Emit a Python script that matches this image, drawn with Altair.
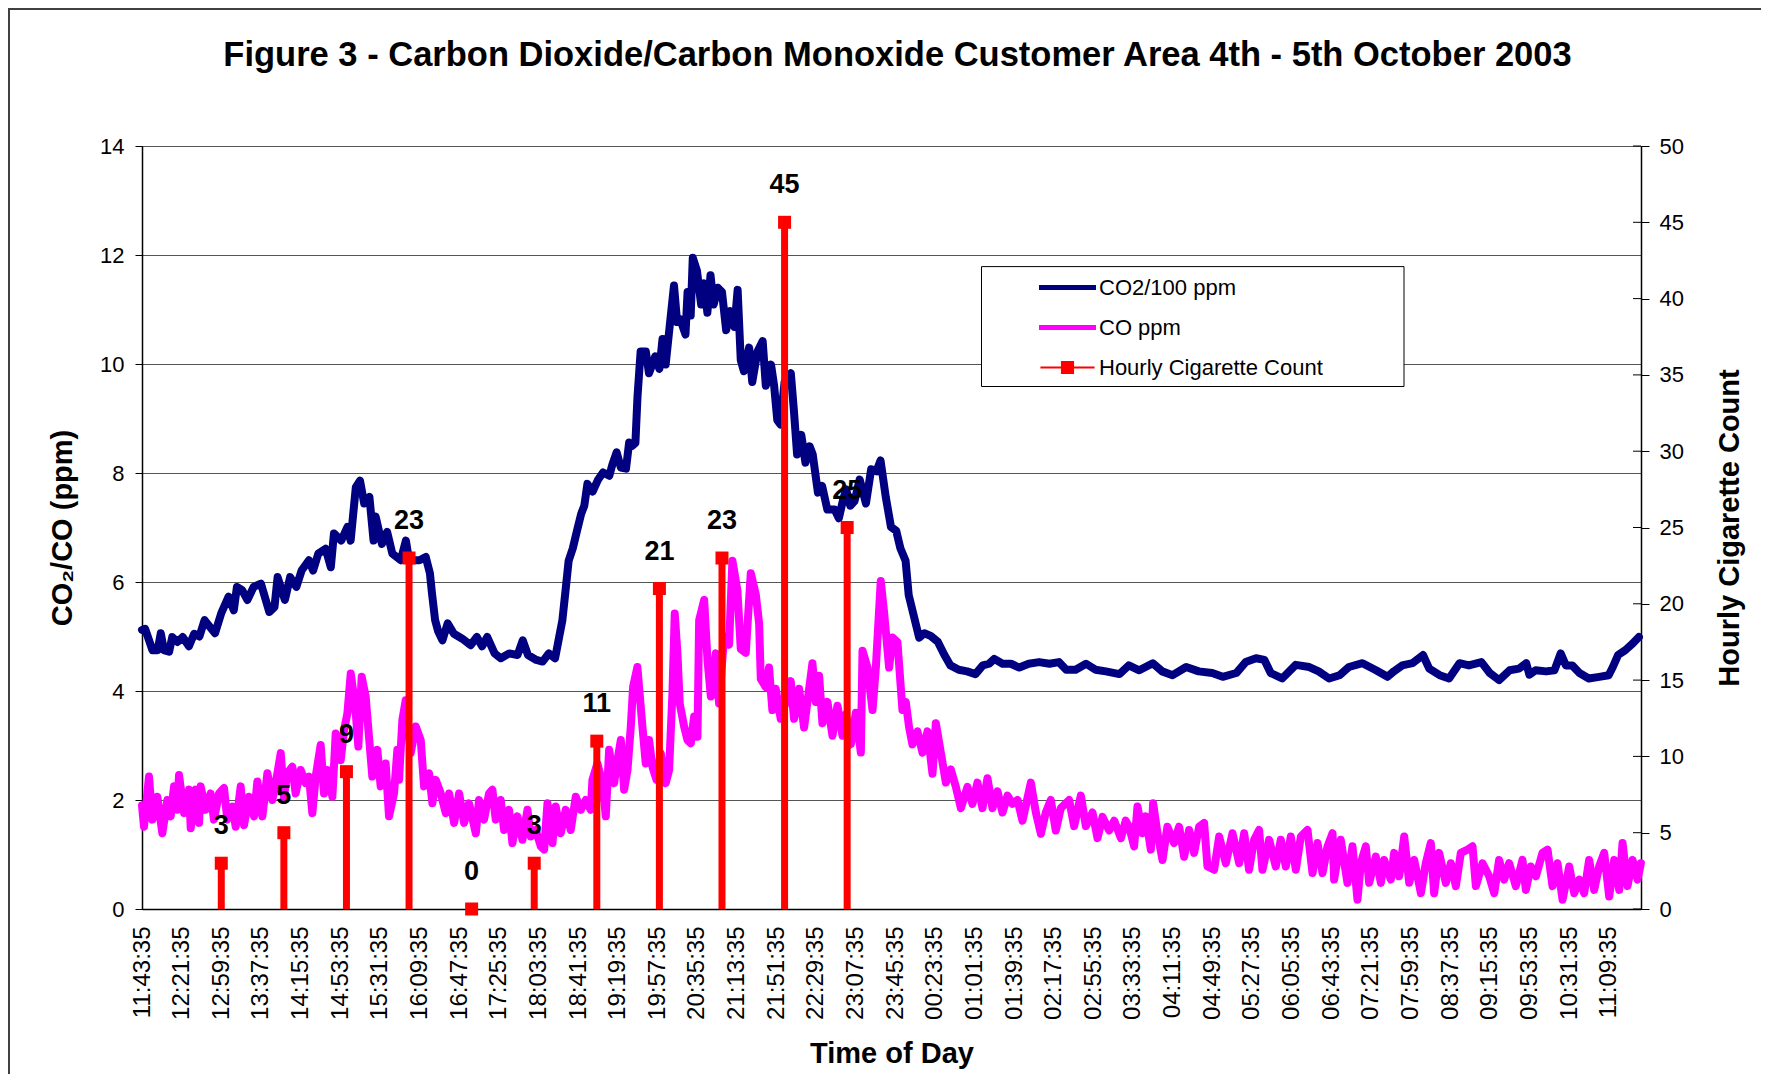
import json
import altair as alt
import pandas as pd

TITLE = "Figure 3 - Carbon Dioxide/Carbon Monoxide Customer Area 4th - 5th October 2003"
FONT = "Liberation Sans"

# category tick labels on the time axis (every 38 minutes from 11:43:35)
tick_labels = ["11:43:35", "12:21:35", "12:59:35", "13:37:35", "14:15:35", "14:53:35",
               "15:31:35", "16:09:35", "16:47:35", "17:25:35", "18:03:35", "18:41:35",
               "19:19:35", "19:57:35", "20:35:35", "21:13:35", "21:51:35", "22:29:35",
               "23:07:35", "23:45:35", "00:23:35", "01:01:35", "01:39:35", "02:17:35",
               "02:55:35", "03:33:35", "04:11:35", "04:49:35", "05:27:35", "06:05:35",
               "06:43:35", "07:21:35", "07:59:35", "08:37:35", "09:15:35", "09:53:35",
               "10:31:35", "11:09:35"]
tick_step = 38
x_max = 1437

left_ticks = [0, 2, 4, 6, 8, 10, 12, 14]
right_ticks = [0, 5, 10, 15, 20, 25, 30, 35, 40, 45, 50]

series_names = ["CO2/100 ppm", "CO ppm", "Hourly Cigarette Count"]
series_colors = ["#000080", "#FF00FF", "#FF0000"]

# CO2/100 ppm  (minutes after 11:43:35, value)
co2_min = [0, 3, 10, 15, 18, 21, 26, 29, 34, 39, 45, 50, 55, 60, 65, 70, 76, 83, 88, 91, 96, 101,
           107, 114, 122, 127, 130, 137, 142, 148, 153, 160, 164, 169, 176, 181, 184, 191, 197,
           200, 205, 209, 213, 218, 222, 224, 230, 235, 240, 248, 253, 256, 266, 272, 276, 278,
           281, 284, 288, 293, 299, 307, 315, 321, 326, 331, 338, 344, 352, 360, 365, 370, 378,
           384, 390, 396, 400, 403, 406, 409, 413, 417, 421, 424, 427, 432, 437, 442, 448, 451,
           455, 459, 464, 467, 470, 473, 475, 478, 483, 486, 492, 496, 499, 502, 505, 510, 513,
           516, 521, 523, 526, 528, 532, 536, 539, 542, 545, 548, 552, 556, 560, 564, 568, 571,
           574, 577, 582, 585, 590, 595, 598, 603, 606, 609, 612, 616, 622, 625, 628, 632, 636,
           640, 643, 648, 652, 657, 664, 668, 672, 675, 679, 683, 688, 694, 699, 704, 708, 713,
           718, 723, 727, 732, 735, 740, 745, 750, 756, 763, 769, 775, 783, 791, 799, 806, 812,
           817, 825, 833, 841, 850, 860, 870, 879, 886, 895, 905, 914, 924, 937, 946, 956, 969,
           978, 988, 1001, 1013, 1026, 1036, 1049, 1058, 1068, 1076, 1082, 1093, 1106, 1119,
           1128, 1138, 1148, 1157, 1170, 1183, 1194, 1200, 1208, 1218, 1228, 1234, 1244, 1253,
           1263, 1272, 1284, 1292, 1301, 1311, 1320, 1327, 1330, 1336, 1346, 1354, 1360, 1365,
           1371, 1378, 1387, 1397, 1406, 1410, 1415, 1422, 1429, 1435]
co2_val = [5.12, 5.14, 4.75, 4.75, 5.06, 4.75, 4.72, 4.99, 4.90, 4.99, 4.82, 5.05, 5.00, 5.30,
           5.18, 5.06, 5.43, 5.73, 5.48, 5.91, 5.85, 5.67, 5.91, 5.97, 5.45, 5.54, 6.09, 5.67,
           6.09, 5.91, 6.21, 6.40, 6.21, 6.52, 6.61, 6.27, 6.89, 6.76, 7.01, 6.76, 7.74, 7.86,
           7.44, 7.56, 6.76, 7.20, 6.70, 6.92, 6.52, 6.40, 6.76, 6.40, 6.40, 6.46, 6.16, 5.79,
           5.30, 5.09, 4.93, 5.24, 5.05, 4.96, 4.84, 4.99, 4.82, 4.99, 4.69, 4.60, 4.69, 4.66,
           4.93, 4.66, 4.57, 4.54, 4.69, 4.60, 5.00, 5.30, 5.84, 6.39, 6.62, 6.94, 7.25, 7.40,
           7.80, 7.66, 7.87, 8.01, 7.95, 8.16, 8.38, 8.10, 8.08, 8.56, 8.50, 8.55, 9.40, 10.23,
           10.23, 9.83, 10.14, 9.91, 10.46, 9.99, 10.54, 11.44, 10.77, 10.82, 10.54, 11.32,
           10.89, 11.95, 11.71, 11.09, 11.48, 10.94, 11.63, 11.09, 11.40, 11.32, 10.62, 10.97,
           10.68, 11.36, 10.07, 9.87, 10.30, 9.67, 10.23, 10.42, 9.60, 9.99, 9.60, 8.97, 8.89,
           9.67, 9.83, 9.13, 8.34, 8.70, 8.19, 8.49, 8.34, 7.64, 7.76, 7.33, 7.33, 7.17, 7.50,
           7.70, 7.40, 7.48, 7.88, 7.44, 8.07, 8.03, 8.23, 7.56, 7.01, 6.94, 6.62, 6.39, 5.76,
           5.37, 4.98, 5.06, 5.01, 4.90, 4.67, 4.47, 4.39, 4.36, 4.31, 4.47, 4.50, 4.59, 4.50,
           4.50, 4.43, 4.50, 4.53, 4.50, 4.53, 4.39, 4.39, 4.50, 4.39, 4.36, 4.31, 4.47, 4.38,
           4.51, 4.36, 4.29, 4.44, 4.36, 4.33, 4.26, 4.33, 4.53, 4.60, 4.57, 4.33, 4.23, 4.48,
           4.44, 4.36, 4.23, 4.29, 4.44, 4.51, 4.38, 4.26, 4.36, 4.47, 4.51, 4.66, 4.41, 4.29,
           4.23, 4.51, 4.47, 4.53, 4.33, 4.20, 4.38, 4.41, 4.51, 4.30, 4.38, 4.36, 4.38, 4.69,
           4.47, 4.47, 4.33, 4.23, 4.26, 4.29, 4.44, 4.66, 4.75, 4.87, 4.99]

# CO ppm
co_min = [0, 1.9, 6.7, 9.9, 14.7, 19.5, 24.3, 27.5, 30.7, 33.9, 35.5, 40.3, 45.1, 46.7, 51.5,
          54.7, 56.2, 61, 65.8, 69, 73.8, 78.6, 81.8, 86.6, 89.8, 94.6, 97.8, 102.6, 107.4,
          110.6, 115.4, 120.2, 125, 129.8, 133, 136.1, 139.3, 144.1, 147.3, 152.1, 156.9, 160.1,
          163.3, 166.5, 171.3, 174.5, 177.7, 182.5, 185.7, 190.5, 193.7, 196.9, 200.1, 204.2,
          207.4, 210.6, 214.4, 217.6, 220.8, 225.6, 228.8, 233.6, 236.8, 241.6, 244.8, 246.4,
          249.6, 252.8, 257.6, 262.4, 267.2, 270.4, 275.2,
          278.4, 281.6, 286.4, 291.2, 294.4, 299.2, 304, 308.8, 313.5, 320, 323.1, 327.9, 332.7,
          335.9, 339.1, 343.9, 347.1, 351.9, 355.1, 359.9, 364.7, 369.5, 372.7, 377.5, 382.3,
          385.5, 388.7, 393.5, 396.6, 401.4, 406.2, 411, 415.8, 420.6, 425.4, 430.2, 431.8,
          436.6, 441.4, 444.6, 447.8, 452.6, 455.8, 459, 462.2, 465.4, 468.6, 470.8, 474.9,
          479.7, 482.9, 486.1, 489.3, 493.2, 497.3, 502.1, 505.3, 508.5, 510.7, 513.3, 515.5,
          519.7, 522.9, 526.1, 529.3, 532.5, 534.1, 538.9, 542.1, 545.3, 550.1, 553.2, 558,
          562.8, 566, 570.8, 574, 578.8, 583.6, 588.4, 591.6, 593.2, 598, 601.1, 604.3, 607.5,
          612.3, 617.1, 621.9, 625.1, 629.9, 634.7, 637.9, 642.7, 645.9, 649.1, 652.3, 657.1,
          661.9, 666.7,
          671.5, 674.7, 679.5, 684.3, 689.1, 690.7, 695.5, 700.3, 703.5, 708.2, 711.4, 716.2,
          719.4, 724.2, 729, 732.2, 735.4, 738.6, 743.4, 748.2, 753, 757.8, 761, 765.8, 770.6,
          775.4, 780.2, 785, 791.3, 796.1, 800.9, 805.7, 810.5, 815.3, 820.1, 824.9, 829.7,
          834.5, 839.3, 844.1, 852.1, 856.9, 861.7, 866.4, 871.2, 876, 880.8, 888.8, 893.6, 900,
          904.8, 911.2, 916, 920.8, 927.2, 932, 938.4, 943,
          946.3, 951.1, 954.3, 959.1, 962.3, 967.1, 969.3, 973.5, 978.3, 983, 989.4, 994.2, 999,
          1003.8, 1008.6, 1013.4, 1018.2, 1021.4, 1027.8, 1032.6, 1039, 1045.4, 1051.8, 1056.6,
          1061.3, 1066.1, 1070.9, 1074.1, 1080.5, 1086.9, 1091.7, 1096.5, 1101.3, 1106.1,
          1110.9, 1117.3, 1122.1, 1126.9, 1131.7, 1136.5, 1141.3, 1142.8, 1149.2, 1155.6,
          1160.4, 1165.2, 1168.4, 1173.2, 1176.4, 1182.8,
          1187.6, 1190.8, 1197.2, 1200.4, 1205.2, 1210, 1214.8, 1219.6, 1226, 1230.7, 1235.5,
          1238.7, 1243.5, 1249.9, 1254.7, 1259.5, 1264.3, 1270.7, 1275.5, 1278.7, 1285.1,
          1291.5, 1296.3, 1301, 1305.8, 1310.6, 1317, 1323.4, 1326.6, 1331.4, 1336.2, 1342.6,
          1347.4, 1352.2, 1357, 1361.8, 1368.2, 1373, 1377.8, 1382.5, 1387.3, 1392.1, 1396.9,
          1401.7, 1406.5, 1411.3, 1416.1, 1419.3, 1424.1, 1428.9, 1433.7, 1436.9]
co_val = [1.90, 1.51, 2.43, 1.64, 2.06, 1.39, 2.00, 1.70, 2.25, 1.82, 2.46, 1.76, 2.19, 1.48, 2.19,
          1.58, 2.25, 1.82, 2.12, 1.64, 2.12, 2.22, 1.64, 1.88, 1.51, 2.25, 1.54, 2.06, 1.70,
          2.34, 1.70, 2.49, 2.00, 2.49, 2.86, 2.06, 2.49, 2.61, 2.12, 2.55, 2.31, 2.43,
          1.76, 2.43, 3.01, 2.12, 2.55, 2.06, 3.22, 2.73, 3.28, 3.59, 4.32, 3.77,
          2.98, 4.26, 3.90, 3.16, 2.43, 2.92, 2.25, 2.67, 1.70, 2.12, 2.92, 2.37,
          3.47, 3.83, 2.86, 3.35, 3.10, 2.25, 2.49,
          1.94, 2.37, 2.12, 1.76, 2.12, 1.58, 2.12, 1.58, 1.94, 1.39, 2.00, 1.64, 2.12,
          2.19, 1.64, 2.00, 1.45, 1.82, 1.21, 1.70, 1.27, 1.82, 1.33, 1.45, 1.15,
          1.09, 1.94, 1.21, 1.88, 1.39, 1.82, 1.45, 2.06, 1.82, 2.00, 1.82, 2.37,
          2.67, 2.31, 1.70, 2.92, 2.31, 2.73, 3.10, 2.19, 2.55, 3.35, 4.08, 4.44,
          3.35, 2.67, 3.10, 2.61, 2.37, 2.86, 2.31, 2.55, 3.96, 5.42, 4.69, 3.77,
          3.35, 3.10, 3.04, 3.53, 3.16, 5.30, 5.67, 4.57, 3.90, 4.69, 3.77, 5.00,
          4.85, 6.39, 5.84, 4.77, 4.70, 6.16, 5.77, 5.24, 4.22, 4.07, 4.43, 3.65, 4.04,
          3.49, 3.80, 4.18, 3.49, 4.04, 3.33, 3.80, 4.51, 3.80, 4.28, 3.41, 3.80,
          3.18, 3.73,
          3.18, 3.57, 3.02, 3.60, 2.87, 4.74, 4.43, 3.65, 4.43, 6.02, 5.44, 4.43,
          4.98, 4.90, 3.65, 3.80, 3.33, 3.02, 3.26, 2.87, 3.26, 2.48, 3.41, 2.87, 2.32,
          2.56, 2.24, 1.85, 2.24, 1.93, 2.32, 1.85, 2.40, 1.85, 2.16, 1.77, 2.08,
          1.93, 2.00, 1.62, 2.32, 1.77, 1.38, 1.77, 2.00, 1.44, 1.85, 2.00, 1.52, 2.08,
          1.52, 1.77, 1.30, 1.69, 1.44, 1.62, 1.30, 1.62,
          1.51, 1.15, 1.88, 1.39, 1.70, 1.09, 1.94, 1.39, 0.90, 1.51, 1.21, 1.51, 0.96,
          1.45, 1.03, 1.51, 1.58, 0.78, 0.72, 1.33, 0.84, 1.39, 0.84, 1.39,
          0.72, 1.27, 1.45, 0.72, 1.27, 0.78, 1.27, 0.78, 1.33, 0.72,
          1.33, 1.45, 0.66, 1.21, 0.66, 1.15, 1.39, 0.54, 1.27, 0.48,
          1.15, 0.17, 0.84, 1.15, 0.48, 0.96,
          0.48, 0.90, 0.54, 1.03, 0.60, 1.33, 0.48, 0.90, 0.29, 0.84, 1.21,
          0.29, 1.03, 0.48, 0.84, 0.42, 1.03, 1.09, 1.15, 0.42, 0.84,
          0.60, 0.29, 0.90, 0.54, 0.84, 0.42, 0.90, 0.35, 0.78, 0.60, 1.03,
          1.09, 0.42, 0.84, 0.17, 0.78, 0.29, 0.54, 0.29, 0.90, 0.35, 0.78,
          1.03, 0.23, 0.90, 0.35, 1.21, 0.42, 0.90, 0.54, 0.84]

# Hourly cigarette count (placed on the hour mark xx:59:35)
cig_min = [76, 136, 196, 256, 316, 376, 436, 496, 556, 616, 676]
cig_count = [3, 5, 9, 23, 0, 3, 11, 21, 23, 45, 25]

# ---------------------------------------------------------------
W, H = 1499, 763

co2_df = pd.DataFrame({"m": co2_min, "v": co2_val})
co_df = pd.DataFrame({"m": co_min, "v": co_val})
cig_df = pd.DataFrame({"m": cig_min, "count": cig_count, "zero": [0] * len(cig_min)})
rtick_df = pd.DataFrame({"count": right_ticks})
legend_df = pd.DataFrame({"series": series_names})
one = pd.DataFrame({"a": [0]})

label_expr = json.dumps(tick_labels) + f"[round(datum.value / {tick_step})]"

x_axis = alt.Axis(values=[i * tick_step for i in range(len(tick_labels))], labelExpr=label_expr,
                  labelAngle=270, labelFontSize=24, labelPadding=17, labelOverlap=False,
                  ticks=False, grid=False, domainColor="#000000", domainWidth=1.5,
                  title="Time of Day", titleFontSize=29, titleFontWeight="bold",
                  titlePadding=20, labelColor="#000000", titleColor="#000000")
x_scale = alt.Scale(domain=[0, x_max], nice=False, zero=False)

y_left_scale = alt.Scale(domain=[0, 14], nice=False)
y_left_axis = alt.Axis(values=left_ticks, format="d", grid=True, gridColor="#555555",
                       gridWidth=1, tickSize=7, tickColor="#000000", labelFontSize=22,
                       labelPadding=11, domainColor="#000000", domainWidth=1.5,
                       title="CO\u2082/CO (ppm)", titleFontSize=29, titleFontWeight="bold",
                       titlePadding=22, labelColor="#000000", titleColor="#000000")

y_right_scale = alt.Scale(domain=[0, 50], nice=False)
y_right_axis = alt.Axis(orient="right", values=right_ticks, format="d", grid=False,
                        tickSize=8, tickColor="#000000", labelFontSize=22, labelPadding=10,
                        domainColor="#000000", domainWidth=1.5,
                        title="Hourly Cigarette Count", titleAngle=270, titleBaseline="top",
                        titleFontSize=29, titleFontWeight="bold", titlePadding=32,
                        labelColor="#000000", titleColor="#000000")

# decorations: outer chart frame and legend box
FRAME_TOP = -137
frame = alt.Chart(one).mark_rect(fill="#FFFFFF", fillOpacity=0, stroke="#404040",
                                 strokeWidth=2).encode(
    x=alt.value(-133), x2=alt.value(W + 400), y=alt.value(FRAME_TOP), y2=alt.value(H + 400))
legend_box = alt.Chart(one).mark_rect(fill="#FFFFFF", stroke="#000000", strokeWidth=1).encode(
    x=alt.value(839.5), x2=alt.value(1262), y=alt.value(120.6), y2=alt.value(240.5))

# the axis definitions sit on the first series of each side; the other layers
# leave `axis` unspecified so that the merged axis stays enabled
co2_line = alt.Chart(co2_df).mark_line(color=series_colors[0], strokeWidth=8,
                                       strokeJoin="round", strokeCap="round").encode(
    x=alt.X("m:Q", scale=x_scale, axis=x_axis),
    y=alt.Y("v:Q", scale=y_left_scale, axis=y_left_axis))
co_line = alt.Chart(co_df).mark_line(color=series_colors[1], strokeWidth=8,
                                     strokeJoin="round", strokeCap="round").encode(
    x=alt.X("m:Q"), y=alt.Y("v:Q"))

thick = "M-1,-0.09L1,-0.09L1,0.09L-1,0.09Z"
marker = ("M-0.95,-0.035L-0.23,-0.035L-0.23,-0.23L0.23,-0.23L0.23,-0.035L0.95,-0.035"
          "L0.95,0.035L0.23,0.035L0.23,0.23L-0.23,0.23L-0.23,0.035L-0.95,0.035Z")
leg = alt.Legend(title=None, orient="none", legendX=897, legendY=113, padding=0,
                 symbolSize=3249, symbolStrokeWidth=0, symbolOpacity=1,
                 labelFontSize=22, labelFont=FONT, labelOffset=3, labelColor="#000000",
                 rowPadding=-17, labelLimit=400)
legend_layer = alt.Chart(legend_df).mark_point(filled=True, opacity=0).encode(
    color=alt.Color("series:N", scale=alt.Scale(domain=series_names, range=series_colors),
                    legend=leg),
    shape=alt.Shape("series:N", scale=alt.Scale(domain=series_names,
                                                range=[thick, thick, marker]),
                    legend=leg))

left = alt.layer(frame, legend_box, co2_line, co_line, legend_layer)

cig_rules = alt.Chart(cig_df).mark_rule(color=series_colors[2], strokeWidth=7).encode(
    x=alt.X("m:Q"),
    y=alt.Y("count:Q", scale=y_right_scale, axis=y_right_axis),
    y2="zero:Q")
cig_pts = alt.Chart(cig_df).mark_square(color=series_colors[2], size=169, opacity=1).encode(
    x=alt.X("m:Q"), y=alt.Y("count:Q"))
cig_txt = alt.Chart(cig_df).mark_text(dy=-37, fontSize=27, fontWeight="bold", font=FONT,
                                      color="#000000").encode(
    x=alt.X("m:Q"), y=alt.Y("count:Q"), text="count:Q")
# inner halves of the right axis' crossing tick marks
inner_ticks = alt.Chart(rtick_df).mark_rule(color="#000000", strokeWidth=1).encode(
    y=alt.Y("count:Q"), x=alt.value(W - 8), x2=alt.value(W))

right = alt.layer(cig_rules, cig_pts, cig_txt, inner_ticks)

# title is laid out above the full bounds (which start at the frame top)
title_bottom = -72
chart = alt.layer(left, right).resolve_scale(y="independent").properties(
    width=W, height=H,
    padding={"left": 134, "top": 138, "right": 120, "bottom": 165},
    autosize=alt.AutoSizeParams(type="none"),
    title=alt.Title(TITLE, fontSize=34.5, fontWeight="bold", font=FONT, anchor="middle",
                    frame="group", offset=FRAME_TOP - title_bottom, dx=6, color="#000000"),
).configure(font=FONT, background="#FFFFFF").configure_axis(
    labelFont=FONT, titleFont=FONT).configure_view(stroke="#000000", strokeWidth=1)

chart.save("out.html", embed_options={"renderer": "svg", "actions": False})
